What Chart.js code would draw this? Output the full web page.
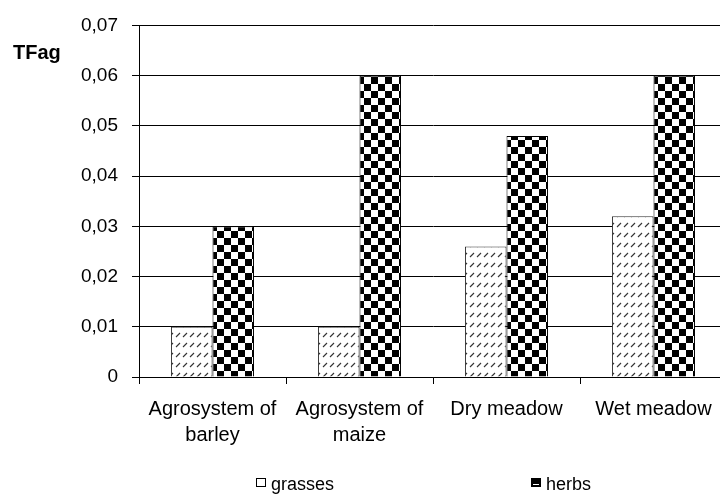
<!DOCTYPE html>
<html>
<head>
<meta charset="utf-8">
<script src="https://cdn.jsdelivr.net/npm/chart.js@4.4.1/dist/chart.umd.min.js"></script>
<style>
  html, body { margin: 0; padding: 0; background: #fff; overflow: hidden; }
  #wrap { width: 730px; height: 494px; }
</style>
</head>
<body>
<div id="wrap"><canvas id="c" width="730" height="494"></canvas></div>
<script>
const categories = [["Agrosystem of", "barley"], ["Agrosystem of", "maize"], "Dry meadow", "Wet meadow"];
const seriesNames = ["grasses", "herbs"];
const grasses = [0.010, 0.010, 0.026, 0.032];
const herbs = [0.030, 0.060, 0.048, 0.060];
const yTickLabels = ["0", "0,01", "0,02", "0,03", "0,04", "0,05", "0,06", "0,07"];
const yTitle = "TFag";

function hatchPattern() {
  const t = document.createElement('canvas');
  t.width = 7; t.height = 10;
  const g = t.getContext('2d');
  g.fillStyle = '#fff'; g.fillRect(0, 0, 7, 10);
  g.strokeStyle = '#333'; g.lineWidth = 1.1;
  g.beginPath(); g.moveTo(1, 7); g.lineTo(5, 3); g.stroke();
  return g.createPattern(t, 'repeat');
}
function checkerPattern() {
  const t = document.createElement('canvas');
  t.width = 14; t.height = 14;
  const g = t.getContext('2d');
  g.fillStyle = '#fff'; g.fillRect(0, 0, 14, 14);
  g.fillStyle = '#000';
  g.fillRect(0, 0, 7, 7); g.fillRect(7, 7, 7, 7);
  return g.createPattern(t, 'repeat');
}

const FONT = "'Liberation Sans', Arial, sans-serif";

const extras = {
  id: 'extras',
  afterDraw(chart) {
    const ctx = chart.ctx;
    ctx.save();
    ctx.fillStyle = '#000';
    ctx.font = "bold 20px " + FONT;
    ctx.textBaseline = 'alphabetic';
    ctx.textAlign = 'left';
    ctx.fillText(yTitle, 13, 59);
    ctx.font = "18px " + FONT;
    ctx.fillStyle = '#fff';
    ctx.fillRect(256.5, 478.5, 9, 8);
    ctx.strokeStyle = '#000'; ctx.lineWidth = 1;
    ctx.strokeRect(256.5, 478.5, 9, 8);
    ctx.fillStyle = '#000';
    ctx.fillText(seriesNames[0], 271, 490);
    ctx.fillStyle = '#000';
    ctx.fillRect(531, 478, 10, 9);
    ctx.fillStyle = '#fff';
    ctx.fillRect(533, 484, 6, 1);
    ctx.fillStyle = '#000';
    ctx.fillText(seriesNames[1], 546, 490);
    ctx.restore();
  }
};

new Chart(document.getElementById('c'), {
  type: 'bar',
  data: {
    labels: categories,
    datasets: [
      { label: seriesNames[0], data: grasses, backgroundColor: hatchPattern(), borderColor: '#333', borderWidth: 1, borderSkipped: 'bottom', categoryPercentage: 0.565, barPercentage: 1 },
      { label: seriesNames[1], data: herbs, backgroundColor: checkerPattern(), borderColor: '#000', borderWidth: 1, borderSkipped: 'bottom', categoryPercentage: 0.565, barPercentage: 1 }
    ]
  },
  options: {
    responsive: false,
    animation: false,
    devicePixelRatio: 1,
    layout: { padding: { top: 19, right: 3, left: 0, bottom: 0 } },
    plugins: { legend: { display: false }, tooltip: { enabled: false } },
    scales: {
      x: {
        offset: true,
        grid: { display: true, drawOnChartArea: false, offset: true, tickLength: 7, color: '#000' },
        border: { display: true, color: '#000' },
        ticks: { color: '#000', font: { family: FONT, size: 20, lineHeight: 1.3 }, padding: 12, maxRotation: 0, autoSkip: false },
        afterFit(s) { s.height = 117; }
      },
      y: {
        min: 0, max: 0.07,
        ticks: { stepSize: 0.01, color: '#000', font: { family: FONT, size: 19 }, padding: 14,
          callback: (v, i) => yTickLabels[i] },
        grid: { color: '#000', tickLength: 7, drawTicks: true },
        border: { display: true, color: '#000' },
        afterFit(s) { s.width = 139; }
      }
    }
  },
  plugins: [extras]
});
</script>
</body>
</html>
